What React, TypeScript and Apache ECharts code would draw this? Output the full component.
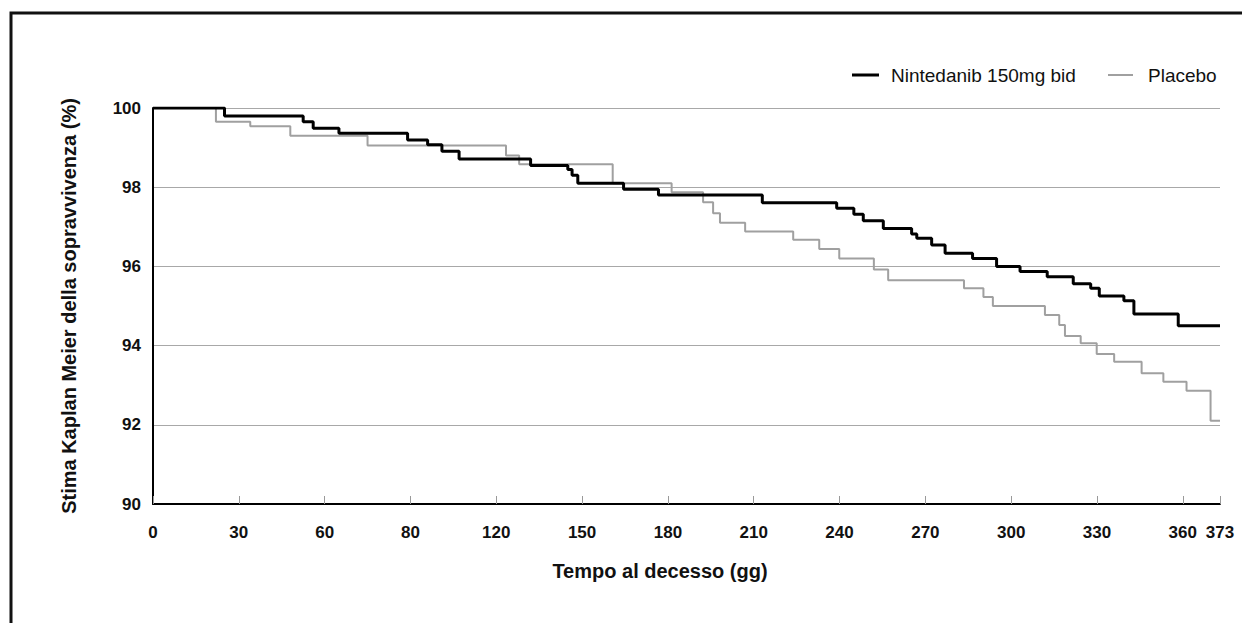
import React, { useEffect, useRef } from "react";
import * as echarts from "echarts";

const seriesNames = ["Nintedanib 150mg bid", "Placebo"];
const seriesColors = ["#000000", "#a0a0a0"];
const seriesWidths = [3, 2];

const ninDays = [0, 25, 52.5, 56, 65, 89, 96, 101, 107, 132, 145, 146.5, 148.5, 164.5, 176.7, 213, 239, 245, 248.3, 255.3, 265.2, 267, 272.2, 276.9, 286.5, 294.9, 303.1, 312.6, 321.7, 327.8, 330.8, 339.4, 342.9, 358.4, 373];
const ninSurv = [100, 99.8, 99.65, 99.49, 99.36, 99.19, 99.07, 98.91, 98.71, 98.55, 98.45, 98.3, 98.1, 97.95, 97.8, 97.61, 97.47, 97.32, 97.15, 96.96, 96.82, 96.71, 96.54, 96.33, 96.2, 96.0, 95.87, 95.74, 95.56, 95.45, 95.25, 95.13, 94.8, 94.5, 94.5];

const plaDays = [0, 22, 34, 48, 75, 123.4, 128, 160.7, 181.3, 192.3, 195.8, 198.2, 207, 223.8, 232.9, 239.9, 252, 257, 283.5, 290.3, 293.6, 311.8, 316.8, 318.8, 324.3, 329.9, 336, 345.6, 353.2, 361.3, 369.7, 373];
const plaSurv = [100, 99.65, 99.54, 99.3, 99.05, 98.8, 98.58, 98.1, 97.87, 97.62, 97.34, 97.1, 96.88, 96.67, 96.44, 96.2, 95.92, 95.65, 95.45, 95.23, 95.0, 94.77, 94.52, 94.24, 94.06, 93.79, 93.59, 93.3, 93.09, 92.86, 92.1, 92.1];

const xTickValues = [0, 30, 60, 90, 120, 150, 180, 210, 240, 270, 300, 330, 360, 373];
const xTickLabels = ["0", "30", "60", "80", "120", "150", "180", "210", "240", "270", "300", "330", "360", "373"];

const xTitle = "Tempo al decesso (gg)";
const yTitle = "Stima Kaplan Meier della sopravvivenza (%)";

const FONT = '"Liberation Sans", Arial, Helvetica, sans-serif';

export default function App() {
  const ref = useRef<HTMLDivElement>(null);
  useEffect(() => {
    if (!ref.current) return;
    const chart = echarts.init(ref.current, undefined, { renderer: "svg" });
    const nin = ninDays.map((d, i) => [d, ninSurv[i]]);
    const pla = plaDays.map((d, i) => [d, plaSurv[i]]);

    // legend built from graphic elements (line sample + text)
    const legendLayout = [
      { x1: 852, x2: 879, tx: 891 },
      { x1: 1108, x2: 1133, tx: 1148 },
    ];
    const legendY = 75;
    const legendGraphics: any[] = [];
    seriesNames.forEach((name, i) => {
      const L = legendLayout[i];
      legendGraphics.push({
        type: "line",
        shape: { x1: L.x1, y1: legendY, x2: L.x2, y2: legendY },
        style: { stroke: seriesColors[i], lineWidth: seriesWidths[i] },
        silent: true,
      });
      legendGraphics.push({
        type: "text",
        x: L.tx,
        y: legendY,
        style: {
          text: name,
          fontFamily: FONT,
          fontSize: 19,
          fill: "#111",
          textAlign: "left",
          textVerticalAlign: "middle",
        },
      });
    });

    chart.setOption({
      animation: false,
      backgroundColor: "#ffffff",
      textStyle: { fontFamily: FONT },
      grid: { left: 153, right: 22, top: 108, bottom: 119 },
      xAxis: {
        type: "value",
        min: 0,
        max: 373,
        axisLine: { show: true, lineStyle: { color: "#000", width: 2 } },
        axisTick: {
          show: true,
          inside: true,
          length: 8,
          customValues: xTickValues,
          lineStyle: { color: "#999", width: 1 },
        },
        axisLabel: {
          customValues: xTickValues,
          margin: 20,
          fontFamily: FONT,
          fontSize: 17,
          fontWeight: "bold",
          color: "#111",
          formatter: (v: number) => {
            const i = xTickValues.indexOf(v);
            return i >= 0 ? xTickLabels[i] : "";
          },
        },
        splitLine: { show: false },
      },
      yAxis: {
        type: "value",
        min: 90,
        max: 100,
        interval: 2,
        axisLine: { show: true, lineStyle: { color: "#000", width: 2 } },
        axisTick: { show: false },
        axisLabel: {
          margin: 12,
          fontFamily: FONT,
          fontSize: 17,
          fontWeight: "bold",
          color: "#111",
        },
        splitLine: { show: true, lineStyle: { color: "#a8a8a8", width: 1 } },
      },
      series: [
        {
          name: seriesNames[0],
          type: "line",
          step: "end",
          data: nin,
          symbol: "none",
          z: 4,
          lineStyle: { color: seriesColors[0], width: seriesWidths[0] },
          itemStyle: { color: seriesColors[0] },
        },
        {
          name: seriesNames[1],
          type: "line",
          step: "end",
          data: pla,
          symbol: "none",
          z: 3,
          lineStyle: { color: seriesColors[1], width: seriesWidths[1] },
          itemStyle: { color: seriesColors[1] },
        },
      ],
      graphic: [
        {
          type: "rect",
          shape: { x: 11, y: 13, width: 1400, height: 800 },
          style: { fill: "none", stroke: "#111", lineWidth: 3 },
          silent: true,
        },
        ...legendGraphics,
        {
          type: "text",
          x: 660,
          y: 571,
          style: {
            text: xTitle,
            fontFamily: FONT,
            fontSize: 20,
            fontWeight: "bold",
            fill: "#111",
            textAlign: "center",
            textVerticalAlign: "middle",
          },
        },
        {
          type: "text",
          x: 69,
          y: 306,
          rotation: Math.PI / 2,
          style: {
            text: yTitle,
            fontFamily: FONT,
            fontSize: 20,
            fontWeight: "bold",
            fill: "#111",
            textAlign: "center",
            textVerticalAlign: "middle",
          },
        },
      ],
    });
    return () => chart.dispose();
  }, []);
  return (
    <div
      ref={ref}
      style={{ position: "fixed", left: 0, top: 0, width: 1242, height: 623 }}
    />
  );
}
